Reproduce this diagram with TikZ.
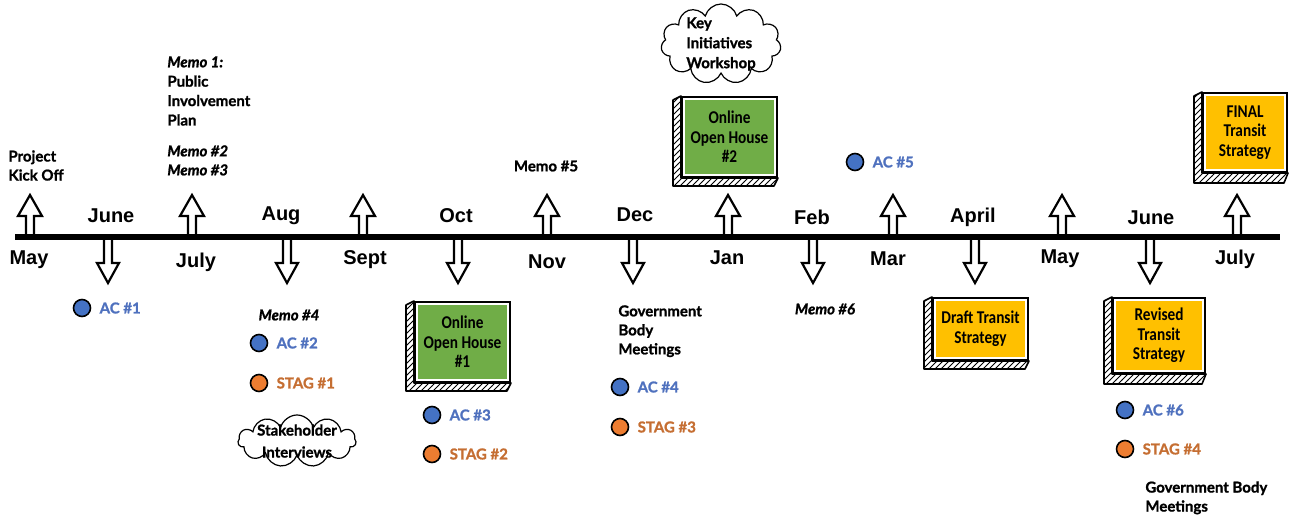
\documentclass[tikz,border=0pt]{standalone}
\usepackage{fontspec}
\usetikzlibrary{positioning,shapes.symbols,patterns}
\newfontfamily\lblfont{Lato}[BoldFeatures={FakeBold=1.2},BoldItalicFeatures={FakeBold=1.2}]
\newfontfamily\monthfont{Liberation Sans}
\newfontfamily\boxfont[FakeStretch=0.85]{Carlito}
\definecolor{ohgreen}{RGB}{112,173,71}
\definecolor{tsyellow}{RGB}{255,192,0}
\definecolor{acblue}{RGB}{68,114,196}
\definecolor{actext}{RGB}{79,113,190}
\definecolor{stagfill}{RGB}{237,125,49}
\definecolor{stagtext}{RGB}{197,110,50}
\tikzset{
  month/.style={font=\monthfont\fontsize{10}{12}\selectfont\bfseries, inner sep=0pt},
  lbl/.style={font=\lblfont\fontsize{7.5}{9.5}\selectfont\bfseries, inner sep=0pt, align=left},
  memo/.style={lbl, font=\lblfont\fontsize{7.5}{9.5}\selectfont\bfseries\itshape},
  acdot/.style={circle, draw=black, line width=0.8pt, fill=acblue, minimum size=8.5pt, inner sep=0pt},
  stagdot/.style={acdot, fill=stagfill},
  actxt/.style={lbl, text=actext},
  stagtxt/.style={lbl, text=stagtext},
  tbox/.style={draw=black, line width=1pt, inner sep=0pt, align=center,
    font=\boxfont\fontsize{9}{9.8}\selectfont\bfseries,
    path picture={\draw[white, line width=3pt] (path picture bounding box.south west) rectangle (path picture bounding box.north east);}},
  boxside/.style={draw=black, line width=0.8pt, line join=round, pattern=north east lines},
  cloudy/.style={cloud, draw=black, line width=0.6pt, cloud puffs=11, cloud ignores aspect, inner sep=0pt},
  arrline/.style={draw=black, line width=1.1pt, fill=white, line join=miter},
  tline/.style={line width=2.6pt},
  uparr/.pic={\draw[arrline] (-4,0) -- (-4,-21) -- (-12,-21) -- (0,-42) -- (12,-21) -- (4,-21) -- (4,0);},
  dnarr/.pic={\draw[arrline] (-4,0) -- (-4,26) -- (-11,26) -- (0,46) -- (11,26) -- (4,26) -- (4,0);}
}
\begin{document}
\begin{tikzpicture}[x=0.5pt,y=-0.5pt]
  \useasboundingbox (0,0) rectangle (1294,518);

  % arrows on the time line
  \foreach \ux in {30,192,363,547,728,893,1062,1237}
    \pic at (\ux,237) {uparr};
  \foreach \dx in {108,287,458,633,813,975,1150}
    \pic at (\dx,237) {dnarr};

  \coordinate (tlStart) at (15,237);
  \coordinate (tlEnd) at (1280,237);
  \draw[tline] (tlStart) -- (tlEnd);

  % months
  \node[month] (mMay) at (29,260) {May};
  \node[month] (mJune) at (111,216) {June};
  \node[month] (mJuly) at (196,262) {July};
  \node[month] (mAug) at (281,216) {Aug};
  \node[month] (mSept) at (365,260) {Sept};
  \node[month] (mOct) at (456,216) {Oct};
  \node[month] (mNov) at (547,262) {Nov};
  \node[month] (mDec) at (635,215) {Dec};
  \node[month] (mJan) at (727,258) {Jan};
  \node[month] (mFeb) at (812,217) {Feb};
  \node[month] (mMar) at (888,259) {Mar};
  \node[month] (mApril) at (973,217) {April};
  \node[month] (mMay2) at (1060,259) {May};
  \node[month] (mJune2) at (1151,218) {June};
  \node[month] (mJuly2) at (1235,259) {July};

  % labels above the line
  \node[lbl, anchor=north west] (kickoff) at (8,150) {Project\\Kick Off};
  \node[lbl, anchor=north west] (memo1) at (167,56) {\textit{Memo 1:}\\[0.2pt]Public\\[0.2pt]Involvement\\[0.2pt]Plan};
  \node[memo, anchor=north west] (memo23) at (167,145) {Memo \#2\\Memo \#3};
  \node[lbl] (memo5) at (546,166) {Memo \#5};
  \node[acdot] (ac5) at (855,162) {};
  \node[actxt, right=4pt of ac5] (ac5t) {AC \#5};

  % labels below the line
  \node[acdot] (ac1) at (82,308) {};
  \node[actxt, right=4pt of ac1] (ac1t) {AC \#1};
  \node[memo] (memo4) at (289,315) {Memo \#4};
  \node[acdot] (ac2) at (259,343) {};
  \node[actxt, right=4pt of ac2] (ac2t) {AC \#2};
  \node[stagdot] (stag1) at (259,383) {};
  \node[stagtxt, right=4pt of stag1] (stag1t) {STAG \#1};
  \node[cloudy, minimum width=59pt, minimum height=26pt] (cloudSH) at (297,441) {};
  \node[lbl, align=center] (cloudSHt) at (297,441) {Stakeholder\\[1.5pt]Interviews};
  \node[acdot] (ac3) at (432,415) {};
  \node[actxt, right=4pt of ac3] (ac3t) {AC \#3};
  \node[stagdot] (stag2) at (432,454) {};
  \node[stagtxt, right=4pt of stag2] (stag2t) {STAG \#2};
  \node[lbl, anchor=north west] (gov1) at (618,305) {Government\\Body\\Meetings};
  \node[acdot] (ac4) at (620,387) {};
  \node[actxt, right=4pt of ac4] (ac4t) {AC \#4};
  \node[stagdot] (stag3) at (620,427) {};
  \node[stagtxt, right=4pt of stag3] (stag3t) {STAG \#3};
  \node[memo] (memo6) at (825,309) {Memo \#6};
  \node[acdot] (ac6) at (1125,410) {};
  \node[actxt, right=4pt of ac6] (ac6t) {AC \#6};
  \node[stagdot] (stag4) at (1125,449) {};
  \node[stagtxt, right=4pt of stag4] (stag4t) {STAG \#4};
  \node[lbl, anchor=north west] (gov2) at (1145,481) {Government Body\\Meetings};

  % key workshop cloud
  \node[cloudy, minimum width=60pt, minimum height=40pt] (cloudKI) at (721,44) {};
  \node[lbl, anchor=west] (cloudKIt) at (686,44) {Key\\[0.5pt]Initiatives\\[0.5pt]Workshop};

  % boxes
  \node[tbox, fill=ohgreen, minimum width=47.5pt, minimum height=40pt] (oh1) at (462.5,342) {Online\\Open House\\\#1};
  \filldraw[boxside] (oh1.north west) -- ++(-8,4) -- ([xshift=-4pt,yshift=-4pt]oh1.south west) -- ([xshift=-2pt,yshift=-4pt]oh1.south east) -- (oh1.south east) -- (oh1.south west) -- cycle;
  \node[tbox, fill=ohgreen, minimum width=47.5pt, minimum height=40pt] (oh2) at (729.5,137) {Online\\Open House\\\#2};
  \filldraw[boxside] (oh2.north west) -- ++(-8,4) -- ([xshift=-4pt,yshift=-4pt]oh2.south west) -- ([xshift=-2pt,yshift=-4pt]oh2.south east) -- (oh2.south east) -- (oh2.south west) -- cycle;
  \node[tbox, fill=tsyellow, minimum width=47.5pt, minimum height=31pt] (draft) at (980.5,329) {Draft Transit\\Strategy};
  \filldraw[boxside] (draft.north west) -- ++(-8,4) -- ([xshift=-4pt,yshift=-4pt]draft.south west) -- ([xshift=-2pt,yshift=-4pt]draft.south east) -- (draft.south east) -- (draft.south west) -- cycle;
  \node[tbox, fill=tsyellow, minimum width=46pt, minimum height=37.5pt] (revised) at (1159,335.5) {Revised\\Transit\\Strategy};
  \filldraw[boxside] (revised.north west) -- ++(-8,4) -- ([xshift=-4pt,yshift=-5pt]revised.south west) -- ([xshift=-2pt,yshift=-5pt]revised.south east) -- (revised.south east) -- (revised.south west) -- cycle;
  \node[tbox, fill=tsyellow, minimum width=42pt, minimum height=39.5pt] (final) at (1245,132.5) {FINAL\\Transit\\Strategy};
  \filldraw[boxside] (final.north west) -- ++(-8,4) -- ([xshift=-4pt,yshift=-5pt]final.south west) -- ([xshift=-2pt,yshift=-5pt]final.south east) -- (final.south east) -- (final.south west) -- cycle;
\end{tikzpicture}
\end{document}
